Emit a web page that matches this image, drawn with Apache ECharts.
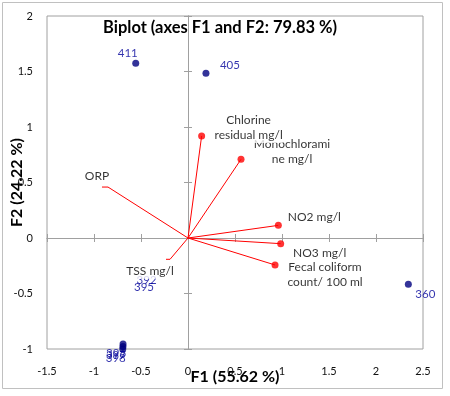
<!DOCTYPE html>
<html>
<head>
<meta charset="utf-8">
<script src="https://cdn.jsdelivr.net/npm/echarts@6/dist/echarts.min.js"></script>
<style>
  html, body { margin: 0; padding: 0; background: #fff; }
  #chart { width: 450px; height: 396px; }
</style>
</head>
<body>
<div id="chart"></div>
<script>
(function () {
  // observations (F1, F2 scores)
  var obsNames = ["411", "405", "360", "392", "395", "396", "397", "398"];
  var obsF1 = [-0.556, 0.191, 2.344, -0.441, -0.468, -0.691, -0.692, -0.694];
  var obsF2 = [1.574, 1.484, -0.417, -0.38, -0.448, -0.955, -0.977, -1.0];

  // variables (loadings); hook = short leader back from the tip
  var varNames = ["ORP", "Monochlorami\nne mg/l", "Chlorine\nresidual mg/l", "NO2 mg/l", "NO3 mg/l", "Fecal coliform\ncount/ 100 ml", "TSS mg/l"];
  var varF1 = [-0.851, 0.564, 0.145, 0.961, 0.986, 0.926, -0.191];
  var varF2 = [0.459, 0.709, 0.919, 0.114, -0.051, -0.243, -0.192];
  var varHook = [-0.064, 0, 0, 0, 0, 0, -0.043];

  var xTicks = { min: -1.5, max: 2.5, step: 0.5 };
  var yTicks = { min: -1, max: 2, step: 0.5 };

  var font = "Lato, 'Liberation Sans', sans-serif";
  var myChart = echarts.init(document.getElementById("chart"));

  // label placement (px offsets from the point)
  var obsLabelOffset = {
    "411": [-8, -10], "405": [24, -8], "360": [17, 10],
    "392": [0, 0], "395": [0, 0],
    "396": [-7, 9], "397": [-7, 9], "398": [-7, 9]
  };
  var varLabelOffset = [[-11, -11], [51, -8], [47, -8], [36, -8], [39, 9], [50, 10], [-20, 12]];

  var obsData = obsNames.map(function (n, i) {
    var hidden = n === "392" || n === "395";
    return {
      name: n,
      value: [obsF1[i], obsF2[i]],
      symbolSize: hidden ? 0 : 7,
      label: { offset: obsLabelOffset[n] }
    };
  });

  var series = [];
  varNames.forEach(function (n, i) {
    var pts = [[0, 0], [varF1[i], varF2[i]]];
    if (varHook[i]) pts.push([varF1[i] + varHook[i], varF2[i]]);
    series.push({
      type: "line",
      data: pts,
      symbol: "none",
      silent: true,
      z: 3,
      lineStyle: { color: "#ff0000", width: 1 },
      animation: false
    });
  });

  series.push({
    type: "scatter",
    z: 4,
    data: obsData,
    itemStyle: { color: "#000080" },
    label: {
      show: true,
      position: "inside",
      formatter: "{b}",
      color: "#00009a",
      fontFamily: font,
      fontSize: 11.5
    },
    animation: false
  });

  series.push({
    type: "scatter",
    z: 5,
    data: varNames.map(function (n, i) {
      return {
        name: n,
        value: [varF1[i], varF2[i]],
        symbolSize: varHook[i] ? 0 : 7,
        label: { offset: varLabelOffset[i] }
      };
    }),
    itemStyle: { color: "#ff0000" },
    label: {
      show: true,
      position: "inside",
      formatter: "{b}",
      color: "#000",
      fontFamily: font,
      fontSize: 12,
      lineHeight: 15,
      align: "center",
      backgroundColor: "#fff"
    },
    animation: false
  });

  function axisBase(t) {
    return { type: "value", min: t.min, max: t.max, interval: t.step, splitLine: { show: false } };
  }
  var lineGrey = "#a0a0a0";
  var tickLabel = { fontFamily: font, fontSize: 11, color: "#111" };

  myChart.setOption({
    animation: false,
    title: {
      text: "Biplot (axes F1 and F2: 79.83 %)",
      left: 98,
      top: 14,
      textStyle: { fontFamily: font, fontSize: 16.5, fontWeight: "bold", color: "#000" }
    },
    graphic: [{
      type: "rect",
      shape: { x: 2.5, y: 2.5, width: 440, height: 386 },
      style: { fill: "none", stroke: "#c0c0c0", lineWidth: 1 },
      silent: true
    }],
    grid: {
      left: 47, top: 16, width: 376, height: 333,
      outerBoundsMode: "none", containLabel: false,
      show: true, borderColor: lineGrey, borderWidth: 1
    },
    xAxis: [
      Object.assign(axisBase(xTicks), {
        position: "bottom",
        name: "F1 (55.62 %)",
        nameLocation: "middle",
        nameGap: 20,
        nameMoveOverlap: false,
        nameTextStyle: { fontFamily: font, fontSize: 16, fontWeight: "bold", color: "#000", verticalAlign: "top" },
        axisLine: { show: false, onZero: false },
        axisTick: { show: false },
        axisLabel: Object.assign({ margin: 17 }, tickLabel)
      }),
      Object.assign(axisBase(xTicks), {
        position: "bottom",
        axisLine: { show: true, onZero: true, onZeroAxisIndex: 0, lineStyle: { color: lineGrey } },
        axisTick: { show: true, length: 4, lineStyle: { color: lineGrey } },
        axisLabel: { show: false }
      }),
      Object.assign(axisBase(xTicks), {
        position: "bottom",
        axisLine: { show: true, onZero: true, onZeroAxisIndex: 0, lineStyle: { color: lineGrey } },
        axisTick: { show: true, inside: true, length: 4, lineStyle: { color: lineGrey } },
        axisLabel: { show: false }
      })
    ],
    yAxis: [
      Object.assign(axisBase(yTicks), {
        position: "left",
        name: "F2 (24.22 %)",
        nameLocation: "middle",
        nameGap: 22,
        nameRotate: 90,
        nameMoveOverlap: false,
        nameTextStyle: { fontFamily: font, fontSize: 16, fontWeight: "bold", color: "#000" },
        axisLine: { show: false, onZero: false },
        axisTick: { show: false },
        axisLabel: Object.assign({ margin: 14 }, tickLabel)
      }),
      Object.assign(axisBase(yTicks), {
        position: "left",
        axisLine: { show: true, onZero: true, onZeroAxisIndex: 0, lineStyle: { color: lineGrey } },
        axisTick: { show: true, length: 4, lineStyle: { color: lineGrey } },
        axisLabel: { show: false }
      }),
      Object.assign(axisBase(yTicks), {
        position: "left",
        axisLine: { show: true, onZero: true, onZeroAxisIndex: 0, lineStyle: { color: lineGrey } },
        axisTick: { show: true, inside: true, length: 4, lineStyle: { color: lineGrey } },
        axisLabel: { show: false }
      })
    ],
    series: series
  });

  window.addEventListener("resize", function () {
    myChart.resize();
  });
})();
</script>
</body>
</html>
